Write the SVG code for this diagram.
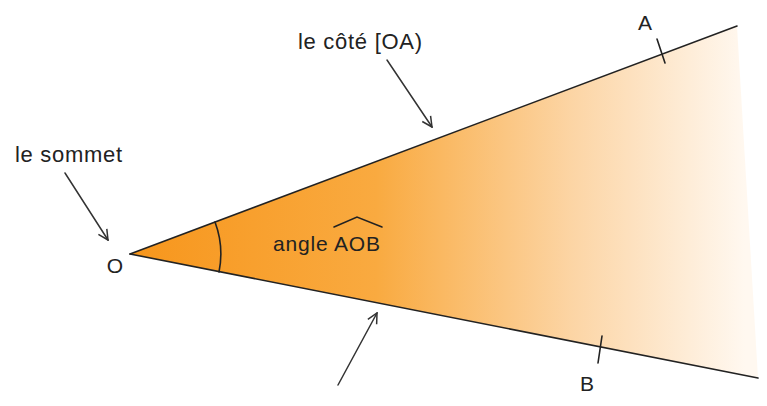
<svg xmlns="http://www.w3.org/2000/svg" width="767" height="406" viewBox="0 0 767 406">
<style>
.ln{stroke:#222;stroke-width:1.6;fill:none;stroke-linecap:round}
.ar{stroke:#333;stroke-width:1.5;fill:none;stroke-linecap:round}
.tx{font-family:"Liberation Sans",Arial,sans-serif;fill:#222}
</style>
<defs>
<linearGradient id="g" gradientUnits="userSpaceOnUse" x1="130" y1="0" x2="745" y2="0">
<stop offset="0" stop-color="#F7961C"/>
<stop offset="0.4" stop-color="#F9AA40"/>
<stop offset="0.72" stop-color="#FCD5A5"/>
<stop offset="1" stop-color="#FFF8F0"/>
</linearGradient>
<marker id="m" viewBox="0 0 12 12" refX="11" refY="6" markerWidth="12" markerHeight="12" markerUnits="userSpaceOnUse" orient="auto">
<path d="M1,1 L11,6 L1,11" fill="none" stroke="#333" stroke-width="1.5"/>
</marker>
</defs>
<g id="angle">
<polygon points="130,254 737,26 758,378" fill="url(#g)"/>
<line class="ln" x1="130" y1="254" x2="737" y2="26"/>
<line class="ln" x1="130" y1="254" x2="758" y2="378"/>
<path class="ln" d="M215,222 A91,91 0 0 1 219,272" stroke-width="1.3"/>
<line class="ln" x1="657" y1="39" x2="665" y2="63" stroke-width="1.4"/>
<line class="ln" x1="602" y1="336" x2="598" y2="363" stroke-width="1.4"/>
</g>
<g id="labels">
<text class="tx" x="115" y="273" font-size="21" text-anchor="middle">O</text>
<text class="tx" x="645" y="30" font-size="21" text-anchor="middle">A</text>
<text class="tx" x="587" y="391" font-size="21" text-anchor="middle">B</text>
<text class="tx" x="15" y="162" font-size="22" textLength="107">le sommet</text>
<text class="tx" x="298" y="49" font-size="22" textLength="124">le côté [OA)</text>
<text class="tx" x="273" y="251" font-size="21" textLength="107">angle AOB</text>
<path class="ln" d="M334,227 L357,217 L382,227" stroke-width="1.5"/>
</g>
<g id="connectors">
<line class="ar" x1="65" y1="173" x2="108" y2="240" marker-end="url(#m)"/>
<line class="ar" x1="387" y1="60" x2="432" y2="127" marker-end="url(#m)"/>
<line class="ar" x1="338" y1="385" x2="377" y2="313" marker-end="url(#m)"/>
</g>
</svg>
